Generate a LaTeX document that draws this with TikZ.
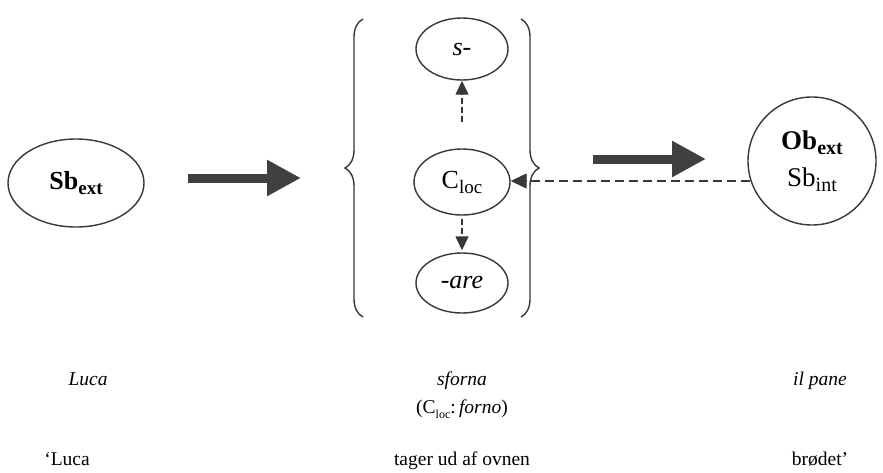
\documentclass[tikz,border=0pt]{standalone}
\usepackage{fontspec}
\setmainfont{Liberation Serif}
\usetikzlibrary{arrows.meta,decorations.pathreplacing,shapes.geometric}
\newcommand{\lowsub}[3]{\raisebox{-#1pt}{\fontsize{#2}{#2}\selectfont #3}}
\begin{document}
\begin{tikzpicture}[x=1pt,y=-1pt,
  ink/.style={draw=black!78, line width=1.4pt},
  ell/.style={ink, ellipse, inner sep=0pt, font=\fontsize{26}{28}\selectfont},
  bigarrow/.style={draw=black!75, line width=9pt, -{Triangle[length=34pt,width=34pt]}},
  dasharrow/.style={draw=black!78, line width=1.4pt, dash pattern=on 6pt off 3pt, -{Triangle[length=14pt,width=13pt]}},
  hdash/.style={draw=black!78, line width=1.4pt, dash pattern=on 9pt off 5pt, -{Triangle[length=16pt,width=15pt]}},
  bracestyle/.style={ink, decorate, decoration={brace, amplitude=#1pt}},
  txt/.style={font=\fontsize{19.5}{22}\selectfont, anchor=base, inner sep=0pt}
]
\useasboundingbox (0,0) rectangle (883,472);

% left node
\node[ell, minimum width=136pt, minimum height=88pt] (sb) at (76,183)
  {\textbf{Sb\lowsub{5}{19}{ext}}};

% central group
\node[ell, minimum width=92pt, minimum height=62pt] (s) at (462,49) {\textit{s-}};
\node[ell, minimum width=96pt, minimum height=66pt] (c) at (462,182) {C\lowsub{5}{19}{loc}};
\node[ell, minimum width=92pt, minimum height=60pt] (a) at (462,283) {\textit{-are}};

% braces
\coordinate (lb1) at (363,317);
\coordinate (lb2) at (363,19);
\coordinate (rb1) at (521,19);
\coordinate (rb2) at (521,317);
\draw[bracestyle=18] (lb1) -- (lb2);
\draw[bracestyle=18] (rb1) -- (rb2);

% right node
\node[ink, circle, minimum size=128pt, inner sep=0pt, align=center,
      font=\fontsize{27}{37}\selectfont] (o) at (812,161)
  {\textbf{Ob\lowsub{5}{20}{ext}}\\Sb\lowsub{5}{20}{int}};

% thick arrows
\coordinate (a1s) at (188,178);
\coordinate (a1e) at (301,178);
\coordinate (a2s) at (593,159);
\coordinate (a2e) at (706,159);
\draw[bigarrow] (a1s) -- (a1e);
\draw[bigarrow] (a2s) -- (a2e);

% dashed arrows
\draw[dasharrow, shorten <=26pt] (c.north) -- (s.south);
\draw[dasharrow, shorten <=3pt, shorten >=2pt] (c.south) -- (a.north);
\draw[hdash] (o.198) -- (o.198 -| c.east);

% text rows
\node[txt] (t1) at (88,385) {\textit{Luca}};
\node[txt] (t2) at (462,385) {\textit{sforna}};
\node[txt] (t3) at (820,385) {\textit{il pane}};
\node[txt] (t4) at (462,413) {(C\lowsub{5}{12}{loc}:\,\textit{forno})};
\node[txt] (t5) at (67,465) {‘Luca};
\node[txt] (t6) at (462,465) {tager ud af ovnen};
\node[txt] (t7) at (820,465) {brødet’};
\end{tikzpicture}
\end{document}
